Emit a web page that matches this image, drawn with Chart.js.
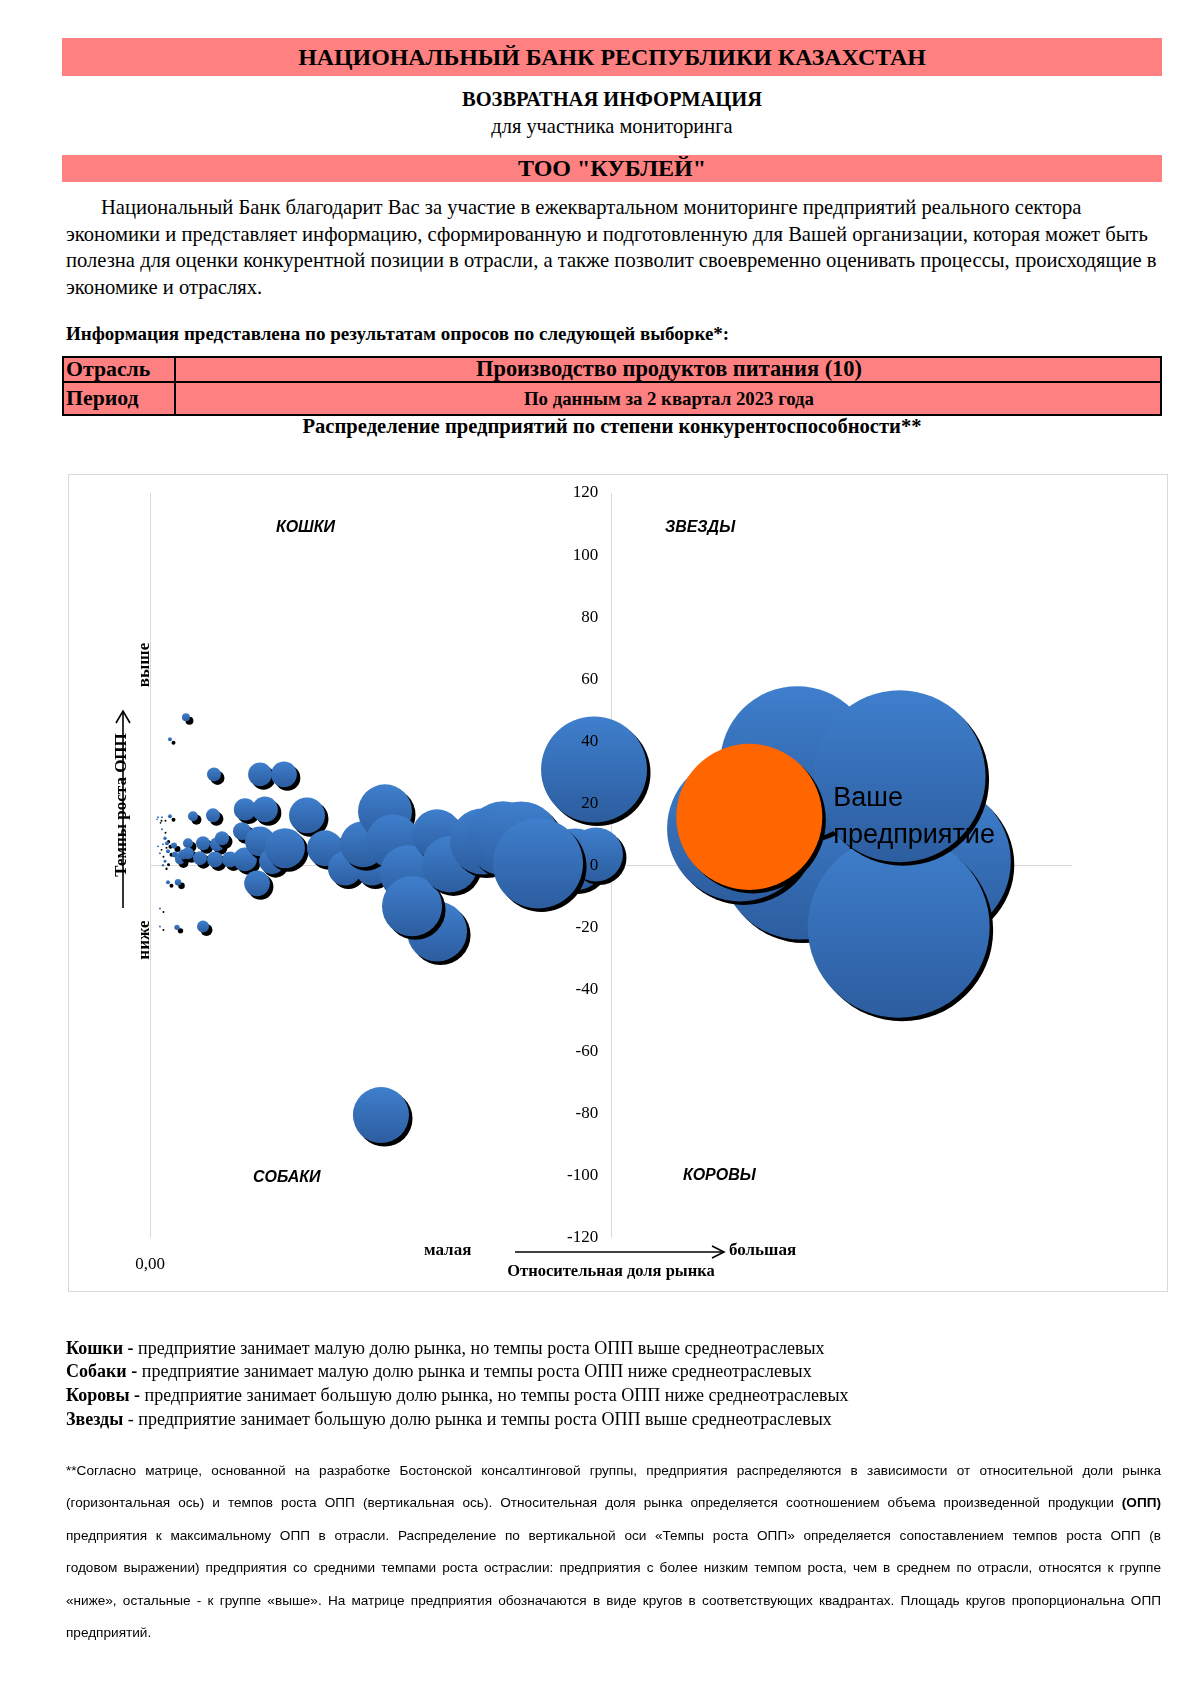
<!DOCTYPE html>
<html><head><meta charset="utf-8">
<script src="https://cdn.jsdelivr.net/npm/chart.js@4.4.0/dist/chart.umd.min.js"></script>
<style>
html,body{margin:0;padding:0;background:#fff;}
body{width:1200px;height:1698px;position:relative;overflow:hidden;font-family:"Liberation Serif","Times New Roman",serif;color:#000;}
.t{position:absolute;white-space:nowrap;}
.ctr{left:62px;width:1100px;text-align:center;}
.band{position:absolute;left:62px;width:1100px;background:#ff8080;}
.b{font-weight:bold;}
.q{position:absolute;white-space:nowrap;font-family:"Liberation Sans",Arial,sans-serif;font-weight:bold;font-style:italic;font-size:16px;line-height:20px;}
.rot{position:absolute;white-space:nowrap;font-weight:bold;transform:translate(-50%,-50%) rotate(-90deg);}
.fn{position:absolute;left:66px;width:1095px;font-family:"Liberation Sans",Arial,sans-serif;font-size:13.6px;line-height:18px;text-align:justify;text-align-last:justify;white-space:normal;}
</style></head>
<body>
<div class="band" style="top:38px;height:38px;"></div>
<div class="t ctr b" style="top:38px;line-height:38px;font-size:23.9px;">НАЦИОНАЛЬНЫЙ БАНК РЕСПУБЛИКИ КАЗАХСТАН</div>
<div class="t ctr b" style="top:87px;line-height:24px;font-size:20.5px;">ВОЗВРАТНАЯ ИНФОРМАЦИЯ</div>
<div class="t ctr" style="top:114px;line-height:24px;font-size:20.4px;">для участника мониторинга</div>
<div class="band" style="top:155px;height:27px;"></div>
<div class="t ctr b" style="top:155px;line-height:27px;font-size:24px;">ТОО "КУБЛЕЙ"</div>

<div class="t" style="left:101px;top:194px;line-height:26px;font-size:20.6px;">Национальный Банк благодарит Вас за участие в ежеквартальном мониторинге предприятий реального сектора</div>
<div class="t" style="left:66px;top:221px;line-height:26px;font-size:20.6px;">экономики и представляет информацию, сформированную и подготовленную для Вашей организации, которая может быть</div>
<div class="t" style="left:66px;top:247px;line-height:26px;font-size:20.6px;">полезна для оценки конкурентной позиции в отрасли, а также позволит своевременно оценивать процессы, происходящие в</div>
<div class="t" style="left:66px;top:274px;line-height:26px;font-size:20.6px;">экономике и отраслях.</div>

<div class="t b" style="left:66px;top:322px;line-height:24px;font-size:19px;">Информация представлена по результатам опросов по следующей выборке*:</div>

<div style="position:absolute;left:62px;top:356px;width:1100px;height:60px;background:#ff8080;border:2px solid #000;box-sizing:border-box;"></div>
<div style="position:absolute;left:62px;top:381px;width:1100px;height:2px;background:#000;"></div>
<div style="position:absolute;left:174px;top:356px;width:2px;height:60px;background:#000;"></div>
<div class="t b" style="left:66px;top:356px;line-height:26px;font-size:21.8px;">Отрасль</div>
<div class="t b" style="left:176px;width:986px;text-align:center;top:356px;line-height:26px;font-size:22.4px;">Производство продуктов питания (10)</div>
<div class="t b" style="left:66px;top:383px;line-height:31px;font-size:21.8px;">Период</div>
<div class="t b" style="left:176px;width:986px;text-align:center;top:383px;line-height:31px;font-size:18.8px;">По данным за 2 квартал 2023 года</div>
<div class="t ctr b" style="top:414px;line-height:24px;font-size:20.6px;">Распределение предприятий по степени конкурентоспособности**</div>

<canvas id="c" width="1100" height="818" style="position:absolute;left:68px;top:474px;width:1100px;height:818px;"></canvas>
<div style="position:absolute;left:68px;top:474px;width:1100px;height:818px;border:1.5px solid #d9d9d9;box-sizing:border-box;pointer-events:none;"></div>

<div class="q" style="left:276px;top:517px;">КОШКИ</div>
<div class="q" style="left:665px;top:517px;">ЗВЕЗДЫ</div>
<div class="q" style="left:253px;top:1167px;">СОБАКИ</div>
<div class="q" style="left:683px;top:1165px;">КОРОВЫ</div>

<div class="rot" style="left:121px;top:805px;font-size:17px;">Темпы роста ОПП</div>
<div class="rot" style="left:144px;top:665px;font-size:17px;">выше</div>
<div class="rot" style="left:144px;top:940px;font-size:17px;">ниже</div>
<div class="t b" style="left:424px;top:1239px;line-height:22px;font-size:17px;">малая</div>
<div class="t b" style="left:729px;top:1239px;line-height:22px;font-size:17px;">большая</div>
<div class="t b" style="left:411px;width:400px;text-align:center;top:1260px;line-height:22px;font-size:16.5px;">Относительная доля рынка</div>

<svg width="1200" height="1698" style="position:absolute;left:0;top:0;pointer-events:none;">
  <g stroke="#000" stroke-width="1.6" fill="none">
    <line x1="123" y1="908" x2="123" y2="711"/>
    <polyline points="116,723 123,711 130,723"/>
    <line x1="515" y1="1252" x2="724" y2="1252"/>
    <polyline points="712,1246 724,1252 712,1258"/>
  </g>
</svg>

<div class="t" style="left:66px;top:1337px;line-height:23px;font-size:18px;"><b>Кошки -</b> предприятие занимает малую долю рынка, но темпы роста ОПП выше среднеотраслевых</div>
<div class="t" style="left:66px;top:1360px;line-height:23px;font-size:18px;"><b>Собаки -</b> предприятие занимает малую долю рынка и темпы роста ОПП ниже среднеотраслевых</div>
<div class="t" style="left:66px;top:1384px;line-height:23px;font-size:18px;"><b>Коровы -</b> предприятие занимает большую долю рынка, но темпы роста ОПП ниже среднеотраслевых</div>
<div class="t" style="left:66px;top:1408px;line-height:23px;font-size:18px;"><b>Звезды</b> - предприятие занимает большую долю рынка и темпы роста ОПП выше среднеотраслевых</div>

<div class="fn" style="top:1462px;">**Согласно матрице, основанной на разработке Бостонской консалтинговой группы, предприятия распределяются в зависимости от относительной доли рынка</div>
<div class="fn" style="top:1494px;">(горизонтальная ось) и темпов роста ОПП (вертикальная ось). Относительная доля рынка определяется соотношением объема произведенной продукции <b>(ОПП)</b></div>
<div class="fn" style="top:1527px;">предприятия к максимальному ОПП в отрасли. Распределение по вертикальной оси «Темпы роста ОПП» определяется сопоставлением темпов роста ОПП (в</div>
<div class="fn" style="top:1559px;">годовом выражении) предприятия со средними темпами роста остраслии: предприятия с более низким темпом роста, чем в среднем по отрасли, относятся к группе</div>
<div class="fn" style="top:1592px;">«ниже», остальные - к группе «выше». На матрице предприятия обозначаются в виде кругов в соответствующих квадрантах. Площадь кругов пропорциональна ОПП</div>
<div class="fn" style="top:1624px;text-align-last:left;">предприятий.</div>

<script>
// Relative market share (x), growth rate of output (y), output volume (relative, bubble area)
const shareX = [
  0.0076,0.0087,0.013,0.0217,0.013,0.0163,0.0087,0.0141,0.0184,0.026,
  0.0108,0.0195,0.0163,0.0141,0.0271,0.0325,0.0358,0.0195,0.0304,0.0108,
  0.0108,0.0293,0.0575,0.0217,0.039,0.0694,0.1193,0.1453,0.0466,0.0683,
  0.103,0.1247,0.1703,0.0412,0.0412,0.0575,0.0542,0.0727,0.0781,0.0705,
  0.0868,0.0998,0.103,0.1193,0.1323,0.1161,0.1464,0.1898,0.2115,0.2408,
  0.231,0.2549,0.2636,0.3113,0.2798,0.2842,0.3113,0.3254,0.3612,0.3829,
  0.4024,0.461,0.4837,0.4208,0.4816,0.2505,
  0.849,0.705,0.640,0.812,0.702,0.813
];
const growthY = [
  14.8,15.5,15.5,15.8,11.6,8.7,6.1,6.8,7.1,6.4,
  3.9,4.5,1.3,0.0,3.5,1.9,3.5,-5.5,-5.5,-13.9,
  -19.7,-20.0,-19.7,40.6,47.7,29.3,29.3,29.3,15.8,16.1,
  18.0,18.0,16.1,7.1,3.9,7.1,2.3,6.8,8.7,1.9,
  1.9,11.0,1.9,7.7,1.3,-5.8,5.5,5.5,-1.0,-1.0,
  6.8,17.4,7.7,-21.3,-2.6,-13.2,10.0,0.3,7.7,8.7,
  7.7,1.9,3.5,0.6,30.9,-80.5,
  1.3,1.9,11.9,-19.8,32.9,28.7
];
const outputSize = [
  0.008,0.012,0.012,0.048,0.012,0.035,0.012,0.012,0.048,0.11,
  0.012,0.048,0.027,0.017,0.11,0.30,0.30,0.048,0.13,0.012,
  0.012,0.088,0.43,0.048,0.19,0.59,1.7,2.0,0.30,0.59,
  1.5,2.0,3.9,0.30,0.43,0.59,0.59,0.59,0.59,0.77,
  0.77,0.98,1.7,2.7,2.0,2.0,4.8,3.9,3.5,3.5,
  6.4,8.8,8.8,10.9,9.5,10.9,7.5,9.5,13.2,16.5,
  19.3,11.6,8.8,24.5,33.9,9.5,
  73.5,77.3,64.4,100,71.6,89.3
];
// Your enterprise
const ownX = [0.650];
const ownY = [15.6];
const ownSize = [64.4];
const ownLabel = ['Ваше', 'предприятие'];
const yMin = -120, yMax = 120, yStep = 20;
const xZeroLabel = '0,00';

const R_MAX = 91;
const MAX_SIZE = Math.max(...outputSize, ...ownSize);
const radiusOf = s => R_MAX * Math.sqrt(s / MAX_SIZE);

function bubbleFill(top, bottom) {
  return (ctx) => {
    const chart = ctx.chart, raw = ctx.raw;
    if (!raw || !chart.chartArea || !chart.scales.y) return bottom;
    const py = chart.scales.y.getPixelForValue(raw.y);
    const r = radiusOf(raw.s);
    const g = chart.ctx.createLinearGradient(0, py - r, 0, py + r);
    g.addColorStop(0, top);
    g.addColorStop(1, bottom);
    return g;
  };
}

const shadowPlugin = {
  id: 'bubbleShadow',
  beforeDatasetDraw(chart) {
    const c = chart.ctx;
    c.save();
    c.shadowColor = '#000';
    c.shadowOffsetX = 3.5;
    c.shadowOffsetY = 3.5;
    c.shadowBlur = 0;
  },
  afterDatasetDraw(chart) { chart.ctx.restore(); }
};

const labelPlugin = {
  id: 'ownLabel',
  afterDatasetsDraw(chart) {
    const el = chart.getDatasetMeta(0).data[0];
    if (!el) return;
    const c = chart.ctx;
    c.save();
    c.font = '27px "Liberation Sans", Arial, sans-serif';
    c.fillStyle = '#000';
    c.textBaseline = 'middle';
    c.textAlign = 'left';
    const x = el.x + el.options.radius + 11;
    c.fillText(ownLabel[0], x, el.y - 18);
    c.fillText(ownLabel[1], x, el.y + 19);
    c.restore();
  }
};

Chart.defaults.font.family = '"Liberation Serif", "Times New Roman", serif';
Chart.defaults.color = '#000';

new Chart(document.getElementById('c'), {
  type: 'bubble',
  data: {
    datasets: [
      {
        label: ownLabel.join(' '),
        order: 0,
        data: ownX.map((x, i) => ({x, y: ownY[i], s: ownSize[i]})),
        backgroundColor: '#ff6600',
        borderWidth: 0,
        radius: ctx => radiusOf(ctx.raw.s)
      },
      {
        label: 'Предприятия',
        order: 1,
        data: shareX.map((x, i) => ({x, y: growthY[i], s: outputSize[i]})),
        backgroundColor: bubbleFill('#3f7fcd', '#2c5d9f'),
        borderWidth: 0,
        radius: ctx => radiusOf(ctx.raw.s)
      }
    ]
  },
  options: {
    responsive: false,
    animation: false,
    events: [],
    layout: {autoPadding: false, padding: {left: 82, right: 96, top: 19, bottom: 0}},
    plugins: {legend: {display: false}, tooltip: {enabled: false}},
    scales: {
      x: {
        type: 'linear', min: 0, max: 1, position: 'bottom',
        border: {display: false},
        grid: {drawTicks: false, lineWidth: 1, color: c => (c.tick && c.tick.value === 0) ? '#d9d9d9' : 'rgba(0,0,0,0)'},
        ticks: {stepSize: 1, padding: 17, font: {size: 17}, color: '#000', callback: v => v === 0 ? xZeroLabel : ''}
      },
      y: {
        type: 'linear', min: yMin, max: yMax, position: {x: 0.5},
        border: {display: true, color: '#d9d9d9', width: 1},
        grid: {drawTicks: false, lineWidth: 1, color: c => (c.tick && c.tick.value === 0) ? '#d9d9d9' : 'rgba(0,0,0,0)'},
        ticks: {stepSize: yStep, z: 1, font: {size: 17}, color: '#000', callback: v => v + '   '}
      }
    }
  },
  plugins: [shadowPlugin, labelPlugin]
});
</script>
</body></html>
